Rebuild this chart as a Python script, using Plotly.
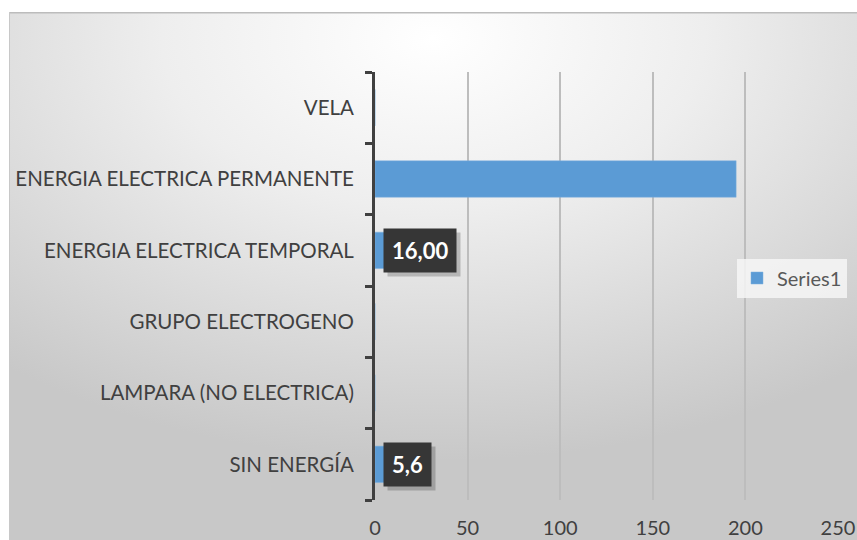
import base64
import plotly.graph_objects as go

categories = ["VELA", "ENERGIA ELECTRICA PERMANENTE", "ENERGIA ELECTRICA TEMPORAL",
              "GRUPO ELECTROGENO", "LAMPARA (NO ELECTRICA)", "SIN ENERGÍA"]
values = [0, 195, 16, 0, 0, 5.6]
label_text = {"ENERGIA ELECTRICA TEMPORAL": "16,00", "SIN ENERGÍA": "5,6"}
x_ticks = [0, 50, 100, 150, 200, 250]

FONT = "Lato"
W, H = 857, 540
ML, MR, MT, MB = 375, 19, 72, 40
PW, PH = W - ML - MR, H - MT - MB

svg = (
    "<svg xmlns='http://www.w3.org/2000/svg' width='848' height='528' viewBox='0 0 848 528' preserveAspectRatio='none'>"
    "<defs><radialGradient id='g' cx='0.5' cy='0.05' r='0.8'>"
    "<stop offset='0' stop-color='#ffffff'/><stop offset='0.4' stop-color='#eeeeee'/>"
    "<stop offset='1' stop-color='#c8c8c8'/></radialGradient></defs>"
    "<rect x='0' y='0' width='848' height='528' fill='url(#g)'/>"
    "<line x1='0' y1='0.75' x2='848' y2='0.75' stroke='#bcbcbc' stroke-width='1.5'/>"
    "<line x1='0.5' y1='0' x2='0.5' y2='528' stroke='#c8c8c8' stroke-width='1'/>"
    "</svg>"
)
src = "data:image/svg+xml;base64," + base64.b64encode(svg.encode()).decode()

fig = go.Figure()
fig.add_trace(go.Bar(
    y=categories, x=values, orientation="h", name="Series1",
    marker=dict(color="#5B9BD5", line=dict(color="#7FB0DE", width=0.5)),
    hoverinfo="x+y",
))

annotations = []
for cat, txt in label_text.items():
    # shadow
    annotations.append(dict(
        x=0, y=cat, xref="x", yref="y", text="<b>%s</b>" % txt, showarrow=False,
        xanchor="left", yanchor="middle", xshift=12, yshift=-4,
        font=dict(family=FONT, size=22, color="rgba(0,0,0,0)"),
        bgcolor="rgba(0,0,0,0.2)", borderpad=8,
    ))
    annotations.append(dict(
        x=0, y=cat, xref="x", yref="y", text="<b>%s</b>" % txt, showarrow=False,
        xanchor="left", yanchor="middle", xshift=8,
        font=dict(family=FONT, size=22, color="#ffffff"),
        bgcolor="#363636", borderpad=8,
    ))

fig.update_layout(
    width=W, height=H, autosize=False,
    margin=dict(l=ML, r=MR, t=MT, b=MB, pad=0, autoexpand=False),
    paper_bgcolor="#ffffff", plot_bgcolor="rgba(0,0,0,0)",
    font=dict(family=FONT, size=20, color="#404040"),
    bargap=0.49,
    showlegend=True,
    legend=dict(x=(737 - ML) / PW, y=(500 - 278) / PH, xanchor="left", yanchor="middle",
                bgcolor="rgba(246,246,246,0.85)", borderwidth=0,
                font=dict(family=FONT, size=20, color="#595959"),
                itemwidth=30, tracegroupgap=0),
    images=[dict(source=src, xref="paper", yref="paper",
                 x=(9 - ML) / PW, y=(H - MB - 12) / PH,
                 sizex=(W - 9) / PW, sizey=(H - 12) / PH,
                 xanchor="left", yanchor="top", sizing="stretch", layer="below")],
    annotations=annotations,
    xaxis=dict(range=[0, 250], tickvals=x_ticks, ticktext=[str(v) for v in x_ticks],
               showgrid=True, gridcolor="#bdbdbd", gridwidth=1.5,
               zeroline=False, showline=False, automargin=False,
               ticks="outside", ticklen=10, tickcolor="rgba(0,0,0,0)",
               tickfont=dict(family=FONT, size=20, color="#404040"), fixedrange=True),
    yaxis=dict(categoryorder="array", categoryarray=categories[::-1],
               showline=True, linecolor="#404040", linewidth=3, automargin=False,
               ticks="outside", tickson="boundaries", ticklen=7, tickwidth=3,
               tickcolor="#404040", showgrid=False, ticklabelstandoff=14,
               tickfont=dict(family=FONT, size=20.5, color="#404040"), fixedrange=True),
)

fig.write_html("out.html", config={"displayModeBar": False},
               post_script="document.body.style.margin='0';document.body.style.overflow='hidden';")
